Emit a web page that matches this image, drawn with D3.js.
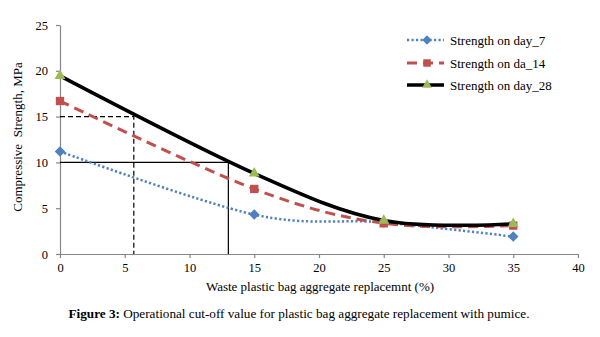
<!DOCTYPE html>
<html>
<head>
<meta charset="utf-8">
<script src="https://cdn.jsdelivr.net/npm/d3@7"></script>
<style>
  body { margin: 0; background: #fff; }
</style>
</head>
<body>
<div id="chart"></div>
<script>
// Data
const replacement = [0, 15, 25, 35]
const day7 = [11.2, 4.3, 3.45, 1.9]
const day14 = [16.7, 7.1, 3.35, 3.1]
const day28 = [19.45, 8.8, 3.65, 3.3]
const seriesNames = ['Strength on day_7', 'Strength on da_14', 'Strength on day_28']
const xTicks = [0, 5, 10, 15, 20, 25, 30, 35, 40]
const yTicks = [0, 5, 10, 15, 20, 25]
// cut-off guides: [x, strength]
const cutoffDashed = [5.7, 15]
const cutoffSolid = [13, 10]

const serif = '"Liberation Serif"'

// Dimensions
const width = 600, height = 337
const margin = { top: 25, right: 22, bottom: 83, left: 60 }
const ctrWidth = width - margin.left - margin.right
const ctrHeight = height - margin.top - margin.bottom

const svg = d3.select('#chart')
  .append('svg')
  .attr('width', width)
  .attr('height', height)
  .style('font-family', serif)

const ctr = svg.append('g')
  .attr('transform', `translate(${margin.left}, ${margin.top})`)

// Scales
const xScale = d3.scaleLinear().domain([0, 40]).range([0, ctrWidth])
const yScale = d3.scaleLinear().domain([0, 25]).range([ctrHeight, 0])

// Axes
const axisColor = '#878787'
const xAxis = d3.axisBottom(xScale).tickValues(xTicks).tickSize(4).tickSizeOuter(0).tickPadding(5)
const yAxis = d3.axisLeft(yScale).tickValues(yTicks).tickSize(4).tickSizeOuter(0).tickPadding(8)

const xAxisGroup = ctr.append('g')
  .attr('transform', `translate(0, ${ctrHeight})`)
  .call(xAxis)
const yAxisGroup = ctr.append('g').call(yAxis)

;[xAxisGroup, yAxisGroup].forEach(g => {
  g.attr('font-family', null).attr('font-size', null)
  g.select('.domain').attr('stroke', axisColor).attr('stroke-width', 1.2)
  g.selectAll('.tick line').attr('stroke', axisColor).attr('stroke-width', 1.2)
  g.selectAll('.tick text')
    .attr('fill', '#000')
    .style('font-family', serif)
    .style('font-size', '12.5px')
})

// Cut-off guide lines
const guide = (pt, dash) => {
  ctr.append('path')
    .attr('d', d3.line()([
      [xScale(0), yScale(pt[1])],
      [xScale(pt[0]), yScale(pt[1])],
      [xScale(pt[0]), yScale(0)]
    ]))
    .attr('fill', 'none')
    .attr('stroke', '#000')
    .attr('stroke-width', 1.2)
    .attr('stroke-dasharray', dash)
}
guide(cutoffDashed, '5 3')
guide(cutoffSolid, null)

// Series (diamond = square turned 45deg)
const series = [
  { name: seriesNames[0], values: day7, color: '#4F81BD', width: 2.5, dash: '2.2 2.3', marker: d3.symbolSquare, rot: 45, size: 55, mfill: '#4F81BD' },
  { name: seriesNames[1], values: day14, color: '#C0504D', width: 3, dash: '10 6', marker: d3.symbolSquare, rot: 0, size: 70, mfill: '#C0504D' },
  { name: seriesNames[2], values: day28, color: '#000', width: 3.5, dash: null, marker: d3.symbolTriangle, rot: 0, size: 52, mfill: '#9BBB59' }
]

const line = d3.line()
  .x(d => xScale(d[0]))
  .y(d => yScale(d[1]))
  .curve(d3.curveCardinal.tension(0))

series.forEach(s => {
  const pts = replacement.map((x, i) => [x, s.values[i]])
  ctr.append('path')
    .attr('d', line(pts))
    .attr('fill', 'none')
    .attr('stroke', s.color)
    .attr('stroke-width', s.width)
    .attr('stroke-dasharray', s.dash)
})

series.forEach(s => {
  ctr.selectAll(null)
    .data(replacement.map((x, i) => [x, s.values[i]]))
    .join('path')
    .attr('transform', d => `translate(${xScale(d[0])}, ${yScale(d[1])}) rotate(${s.rot})`)
    .attr('d', d3.symbol(s.marker, s.size))
    .attr('fill', s.mfill)
})

// Legend
const legend = svg.append('g').attr('transform', 'translate(407, 0)')
const legendY = [40, 63, 85]
series.forEach((s, i) => {
  const g = legend.append('g').attr('transform', `translate(0, ${legendY[i]})`)
  g.append('line')
    .attr('x1', 0).attr('x2', 37)
    .attr('stroke', s.color)
    .attr('stroke-width', s.width)
    .attr('stroke-dasharray', s.dash)
  g.append('path')
    .attr('transform', `translate(20, 0) rotate(${s.rot})`)
    .attr('d', d3.symbol(s.marker, s.size * 0.8))
    .attr('fill', s.mfill)
  g.append('text')
    .attr('x', 43)
    .attr('y', 4.5)
    .style('font-family', serif)
    .style('font-size', '13px')
    .text(s.name)
})

// Axis titles
svg.append('text')
  .attr('x', 320)
  .attr('y', 291)
  .style('text-anchor', 'middle')
  .style('font-family', serif)
  .style('font-size', '13px')
  .text('Waste plastic bag aggregate replacemnt (%)')

svg.append('text')
  .attr('transform', 'translate(22, 137) rotate(-90)')
  .style('text-anchor', 'middle')
  .style('font-family', serif)
  .style('font-size', '13px')
  .style('white-space', 'pre')
  .text('Compressive  Strength, MPa')

// Caption
const caption = svg.append('text')
  .attr('x', 299)
  .attr('y', 318)
  .style('text-anchor', 'middle')
  .style('font-family', serif)
  .style('font-size', '13.2px')
caption.append('tspan').style('font-weight', 'bold').text('Figure 3:')
caption.append('tspan').text(' Operational cut-off value for plastic bag aggregate replacement with pumice.')
</script>
</body>
</html>
